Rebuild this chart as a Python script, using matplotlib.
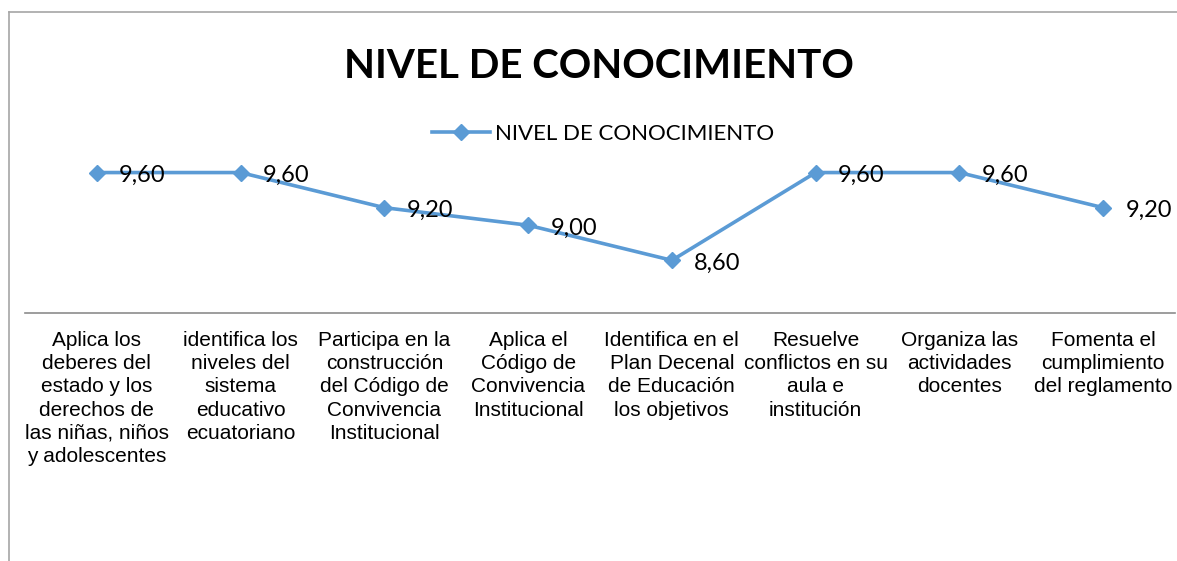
import matplotlib
matplotlib.use("Agg")
import matplotlib.pyplot as plt
from matplotlib.lines import Line2D

categories = [
    "Aplica los\ndeberes del\nestado y los\nderechos de\nlas niñas, niños\ny adolescentes",
    "identifica los\nniveles del\nsistema\neducativo\necuatoriano",
    "Participa en la\nconstrucción\ndel Código de\nConvivencia\nInstitucional",
    "Aplica el\nCódigo de\nConvivencia\nInstitucional",
    "Identifica en el\nPlan Decenal\nde Educación\nlos objetivos",
    "Resuelve\nconflictos en su\naula e\ninstitución",
    "Organiza las\nactividades\ndocentes",
    "Fomenta el\ncumplimiento\ndel reglamento",
]
values = [9.60, 9.60, 9.20, 9.00, 8.60, 9.60, 9.60, 9.20]
series_name = "NIVEL DE CONOCIMIENTO"
title = "NIVEL DE CONOCIMIENTO"

blue = "#5B9BD5"
grey = "#A6A6A6"

fig = plt.figure(figsize=(11.77, 5.61), dpi=100)
ax = fig.add_axes([25 / 1177, 248 / 561, 1150 / 1177, 158 / 561])

x = list(range(len(values)))
line, = ax.plot(x, values, color=blue, lw=2.6, marker="D", ms=8.5,
                markeredgecolor=blue, markerfacecolor=blue, label=series_name)

for xi, v in zip(x, values):
    ax.annotate(f"{v:.2f}".replace(".", ","), (xi, v), xytext=(16, -2),
                textcoords="offset points", ha="left", va="center",
                fontsize=17, family="Lato")

ax.set_xlim(-0.5, len(values) - 0.5)
ax.set_ylim(8.0, 9.8)
ax.set_xticks(x)
ax.set_xticklabels(categories, fontsize=15, family="Liberation Sans",
                   linespacing=1.28, va="top")
ax.tick_params(axis="x", length=0, pad=13)
ax.set_yticks([])
for s in ["top", "left", "right"]:
    ax.spines[s].set_visible(False)
ax.spines["bottom"].set_color("#8C8C8C")
ax.spines["bottom"].set_linewidth(1.2)

fig.text(599 / 1177, 1 - 66 / 561, title, ha="center", va="center",
         fontsize=29, fontweight="bold", family="Lato")

leg = fig.legend(handles=[line], loc="center", bbox_to_anchor=(603 / 1177, 1 - 134 / 561),
                 frameon=False, prop={"family": "Lato", "size": 16},
                 handlelength=2.6, handletextpad=0.2)

# outer frame (only top and left visible in the crop)
fig.add_artist(Line2D([9 / 1177, 9 / 1177], [0, 1 - 12 / 561], transform=fig.transFigure,
                      color=grey, lw=1.2))
fig.add_artist(Line2D([9 / 1177, 1], [1 - 12 / 561, 1 - 12 / 561], transform=fig.transFigure,
                      color=grey, lw=1.2))

fig.savefig("out.png", dpi=100)
